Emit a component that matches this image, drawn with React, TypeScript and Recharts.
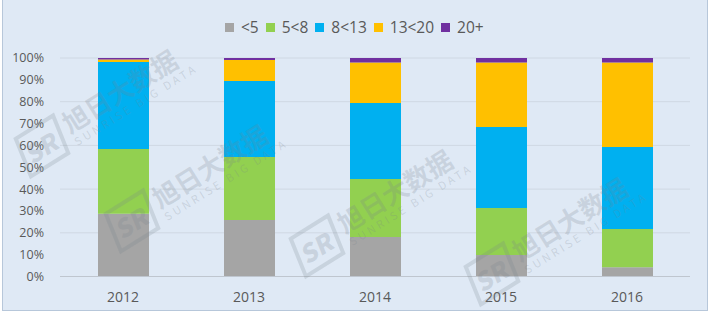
import React from 'react';
import { BarChart, Bar, XAxis, YAxis, CartesianGrid } from 'recharts';

// categories + share (%) per age band
const years = ['2012', '2013', '2014', '2015', '2016'];
const lt5 = [28.7, 25.9, 18.1, 9.8, 4.2];
const b5to8 = [29.7, 28.8, 26.5, 21.6, 17.5];
const b8to13 = [39.8, 34.8, 34.8, 37.0, 37.6];
const b13to20 = [1.1, 9.6, 18.5, 29.5, 38.6];
const gt20 = [0.7, 0.9, 2.1, 2.1, 2.1];
const yTicks = [0, 10, 20, 30, 40, 50, 60, 70, 80, 90, 100];

const SERIES = [
  { key: 'lt5', name: '<5', color: '#a5a5a5', values: lt5 },
  { key: 'b5to8', name: '5<8', color: '#92d050', values: b5to8 },
  { key: 'b8to13', name: '8<13', color: '#00b0f0', values: b8to13 },
  { key: 'b13to20', name: '13<20', color: '#ffc000', values: b13to20 },
  { key: 'gt20', name: '20+', color: '#7030a0', values: gt20 },
];

const data = years.map((y, i) => {
  const row: any = { year: y };
  SERIES.forEach(s => { row[s.key] = s.values[i]; });
  return row;
});

const FONT = '"Open Sans", "Noto Sans CJK SC", sans-serif';
const TXT = '#595959';

// watermark spots (decorative, semi-transparent), kept inside the frame
const marks = [
  { x: 10, y: 140 }, { x: 100, y: 215 }, { x: 285, y: 240 }, { x: 460, y: 268 },
];

const WM = 'rgba(120,130,140,0.22)';

const Watermark: React.FC<{ x: number; y: number }> = ({ x, y }) => (
  <div style={{
    position: 'absolute', left: x, top: y, transform: 'rotate(-32deg)', transformOrigin: 'left top',
    color: WM, fontFamily: '"Noto Sans CJK SC", sans-serif', pointerEvents: 'none',
    display: 'flex', alignItems: 'center', gap: 6, whiteSpace: 'nowrap',
  }}>
    <div style={{
      width: 40, height: 36, border: `4px solid ${WM}`, fontSize: 25, fontWeight: 900,
      lineHeight: '36px', textAlign: 'center', transform: 'skewX(-10deg)',
    }}>SR</div>
    <div>
      <div style={{ fontSize: 26, fontWeight: 700, lineHeight: '28px' }}>旭日大数据</div>
      <div style={{ fontSize: 11, letterSpacing: 3, lineHeight: '13px' }}>SUNRISE BIG DATA</div>
    </div>
  </div>
);

export default function App() {
  return (
    <div style={{ position: 'fixed', left: 0, top: 0, width: 711, height: 322, background: '#fff', overflow: 'hidden' }}>
      <div style={{
        position: 'absolute', left: 2, top: 0, width: 704, height: 310,
        background: '#dfe9f5', border: '1px solid #b7c7da', borderTop: 'none',
      }} />
      <div style={{ position: 'absolute', left: 0, top: 0 }}>
        <BarChart width={711} height={322} data={data} margin={{ top: 58, right: 21, bottom: 0, left: 0 }}>
          <CartesianGrid vertical={false} stroke="#cfd8e3" />
          <XAxis
            dataKey="year"
            height={45.5}
            tickLine={false}
            axisLine={{ stroke: '#bfc6cf' }}
            tick={{ fill: TXT, fontSize: 14, fontFamily: FONT }}
            tickMargin={10}
          />
          <YAxis
            width={60}
            domain={[0, 100]}
            ticks={yTicks}
            tickFormatter={(v: number) => `${v}%`}
            axisLine={false}
            tickLine={false}
            tick={{ fill: TXT, fontSize: 12.5, fontFamily: FONT }}
            tickMargin={10}
          />
          {SERIES.map(s => (
            <Bar key={s.key} dataKey={s.key} name={s.name} stackId="a" fill={s.color} barSize={51} isAnimationActive={false} />
          ))}
        </BarChart>
      </div>
      <div style={{
        position: 'absolute', left: 225, top: 17, height: 20, display: 'flex', alignItems: 'center',
        fontFamily: FONT, fontSize: 15.5, color: TXT,
      }}>
        {SERIES.map(s => (
          <div key={s.key} style={{ display: 'flex', alignItems: 'center', marginRight: 7 }}>
            <span style={{ width: 9, height: 9, background: s.color, display: 'inline-block', marginRight: 7 }} />
            <span>{s.name}</span>
          </div>
        ))}
      </div>
      {marks.map((m, i) => <Watermark key={i} x={m.x} y={m.y} />)}
    </div>
  );
}
